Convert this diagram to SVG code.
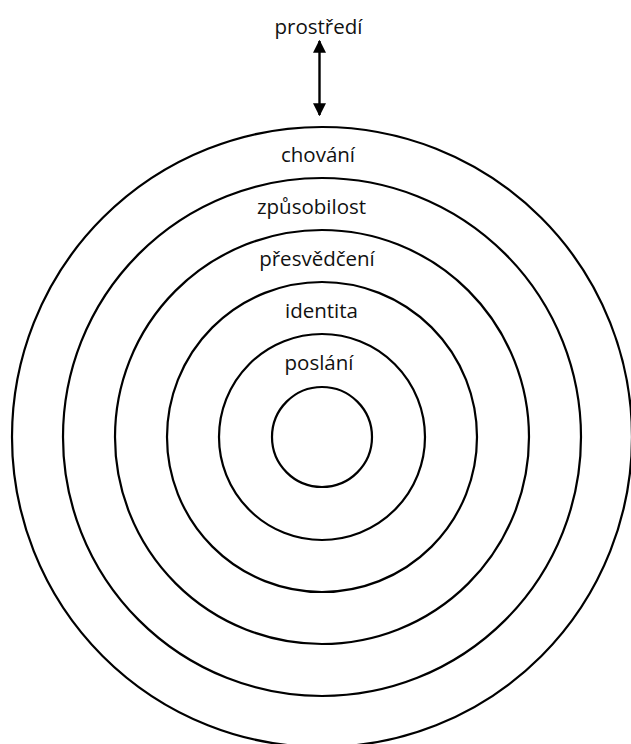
<svg xmlns="http://www.w3.org/2000/svg" width="631" height="744" viewBox="0 0 631 744">
  <style>
    .ring { fill: none; stroke: #000; stroke-width: 2.2; }
    .lbl { font-family: "Open Sans", "Noto Sans", sans-serif; font-size: 20.5px; fill: #111; text-anchor: middle; }
    .link { stroke: #000; stroke-width: 2.4; fill: none; }
  </style>
  <defs>
    <marker id="head" viewBox="0 0 10 10" refX="9" refY="5" markerWidth="13" markerHeight="13" markerUnits="userSpaceOnUse" orient="auto-start-reverse">
      <path d="M0,0 L10,5 L0,10 Z" fill="#000"/>
    </marker>
  </defs>

  <rect width="631" height="744" fill="#fff"/>

  <!-- concentric levels, outermost first -->
  <g id="rings">
    <circle id="ring-chovani" class="ring" cx="322" cy="437" r="310"/>
    <circle id="ring-zpusobilost" class="ring" cx="322" cy="437" r="259"/>
    <circle id="ring-presvedceni" class="ring" cx="322" cy="437" r="207"/>
    <circle id="ring-identita" class="ring" cx="322" cy="437" r="155"/>
    <circle id="ring-poslani" class="ring" cx="322" cy="437" r="103"/>
    <circle id="ring-core" class="ring" cx="322" cy="437" r="50"/>
  </g>

  <!-- environment link -->
  <g id="connectors">
    <line class="link" x1="319.5" y1="41" x2="319.5" y2="115" marker-start="url(#head)" marker-end="url(#head)"/>
  </g>

  <g id="node-prostredi"><text class="lbl" x="318.5" y="34">prostředí</text></g>
  <g id="node-chovani"><text class="lbl" x="318" y="162">chování</text></g>
  <g id="node-zpusobilost"><text class="lbl" x="311.5" y="214">způsobilost</text></g>
  <g id="node-presvedceni"><text class="lbl" x="317" y="266">přesvědčení</text></g>
  <g id="node-identita"><text class="lbl" x="321.5" y="318">identita</text></g>
  <g id="node-poslani"><text class="lbl" x="319" y="370">poslání</text></g>
</svg>
